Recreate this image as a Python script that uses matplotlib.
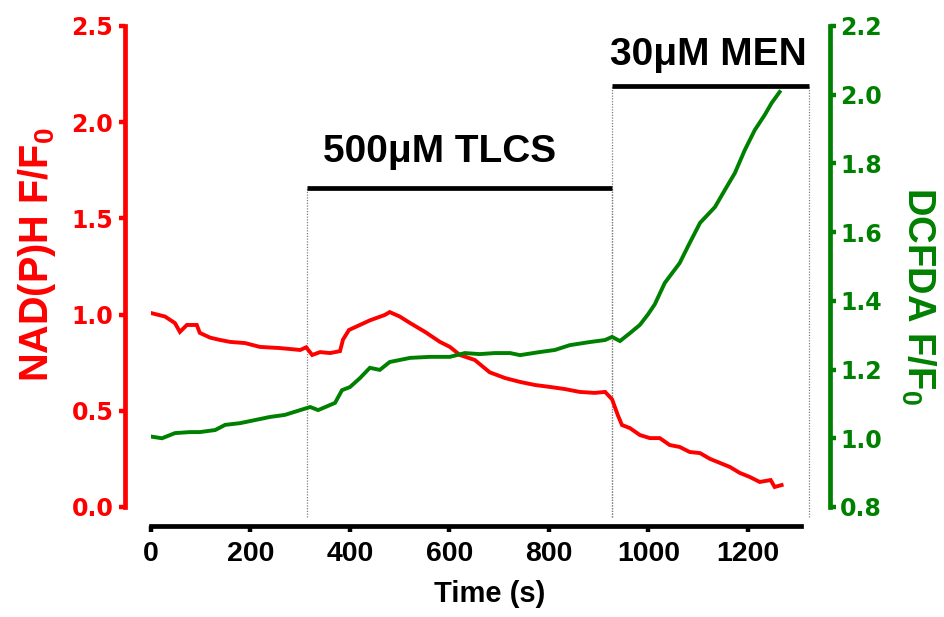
import matplotlib
matplotlib.use("Agg")
import matplotlib.pyplot as plt

# NAD(P)H trace (left axis)
nadh_t = [0, 28, 48, 58, 72, 92, 98, 119, 139, 159, 189, 219, 259, 300, 312, 324,
          340, 360, 380, 386, 398, 420, 440, 470, 480, 500, 521, 551, 581, 601,
          621, 651, 681, 712, 742, 772, 802, 832, 862, 892, 913, 927, 939, 947,
          963, 983, 1003, 1023, 1043, 1063, 1083, 1104, 1124, 1144, 1164, 1184,
          1204, 1224, 1246, 1254, 1268]
nadh_v = [1.008, 0.99, 0.956, 0.91, 0.946, 0.946, 0.905, 0.88, 0.868, 0.858, 0.852,
          0.832, 0.826, 0.816, 0.83, 0.79, 0.805, 0.80, 0.81, 0.87, 0.92, 0.946,
          0.97, 0.998, 1.013, 0.99, 0.956, 0.91, 0.858, 0.832, 0.79, 0.764, 0.70,
          0.67, 0.65, 0.634, 0.624, 0.613, 0.598, 0.593, 0.598, 0.56, 0.475, 0.426,
          0.41, 0.374, 0.358, 0.358, 0.322, 0.312, 0.286, 0.28, 0.25, 0.229, 0.208,
          0.177, 0.156, 0.13, 0.14, 0.104, 0.114]

# DCFDA trace (right axis)
dcf_t = [0, 22, 48, 78, 98, 129, 149, 179, 209, 239, 269, 300, 320, 336, 370, 384,
         400, 420, 440, 460, 480, 521, 561, 601, 631, 661, 691, 722, 742, 782, 812,
         842, 882, 913, 927, 943, 963, 983, 999, 1013, 1033, 1063, 1083, 1104, 1134,
         1154, 1174, 1194, 1214, 1234, 1248, 1264]
dcf_v = [1.005, 1.0, 1.015, 1.018, 1.018, 1.024, 1.039, 1.044, 1.053, 1.062, 1.068,
         1.082, 1.091, 1.082, 1.103, 1.14, 1.149, 1.175, 1.205, 1.199, 1.222, 1.234,
         1.237, 1.237, 1.248, 1.245, 1.248, 1.248, 1.242, 1.251, 1.257, 1.271, 1.28,
         1.286, 1.295, 1.283, 1.306, 1.33, 1.36, 1.39, 1.452, 1.51, 1.568, 1.627,
         1.673, 1.723, 1.772, 1.839, 1.897, 1.941, 1.976, 2.008]

# treatment windows (s)
tlcs_span = (314, 926)
men_span = (926, 1323)

left_ticks = [0.0, 0.5, 1.0, 1.5, 2.0, 2.5]
right_ticks = [0.8, 1.0, 1.2, 1.4, 1.6, 1.8, 2.0, 2.2]
x_ticks = [0, 200, 400, 600, 800, 1000, 1200]

RED = "#ff0000"
GREEN = "#008000"
FONT = "Liberation Sans"

plt.rcParams["mathtext.default"] = "regular"

fig = plt.figure(figsize=(9.44, 6.17), dpi=100)
ax = fig.add_axes([0.16, 0.1783, 0.688, 0.7796])
ax2 = ax.twinx()

ax.plot(nadh_t, nadh_v, color=RED, lw=2.8, solid_joinstyle="miter", zorder=3)
ax2.plot(dcf_t, dcf_v, color=GREEN, lw=2.8, solid_joinstyle="miter", zorder=3)

ax.set_xlim(0, 1306)
ax.set_ylim(0, 2.5)
ax2.set_ylim(0.8, 2.2)

ax.set_xticks(x_ticks)
ax.set_yticks(left_ticks)
ax2.set_yticks(right_ticks)
ax.set_yticklabels([f"{v:.1f}" for v in left_ticks])
ax2.set_yticklabels([f"{v:.1f}" for v in right_ticks])

for a in (ax, ax2):
    a.patch.set_visible(False)
    a.spines["top"].set_visible(False)
ax.spines["right"].set_visible(False)
ax2.spines["left"].set_visible(False)
ax2.spines["bottom"].set_visible(False)

ax.spines["left"].set_position(("outward", 18.7))
ax.spines["bottom"].set_position(("outward", 14))
ax2.spines["right"].set_position(("outward", 21))
ax.spines["left"].set_color(RED)
ax2.spines["right"].set_color(GREEN)
for sp in (ax.spines["left"], ax.spines["bottom"], ax2.spines["right"]):
    sp.set_linewidth(3.4)

ax.tick_params(axis="y", colors=RED, width=3.2, length=4.5, pad=4,
               labelsize=17)
ax2.tick_params(axis="y", colors=GREEN, width=3.2, length=4.5, pad=3,
                labelsize=17)
ax.tick_params(axis="x", colors="black", width=3.2, length=4.5, pad=6,
               labelsize=20.5)
for lab in ax.get_yticklabels() + ax2.get_yticklabels():
    lab.set_fontweight("bold")
    lab.set_family("DejaVu Sans")
for lab in ax.get_xticklabels():
    lab.set_fontweight("bold")
    lab.set_family(FONT)

ax.set_xlabel("Time (s)", fontsize=21, fontweight="bold", family=FONT)
ax.xaxis.set_label_coords(0.521, -0.152)

fig.text(0.039, 0.587, "NAD(P)H F/F$_0$", rotation=90, ha="center", va="center",
         color=RED, fontsize=28.5, fontweight="bold", family=FONT)
fig.text(0.973, 0.52, "DCFDA F/F$_0$", rotation=270, ha="center", va="center",
         color=GREEN, fontsize=27.5, fontweight="bold", family=FONT)

# treatment bars with dotted guide lines
bar_y = {"tlcs": 1.656, "men": 2.187}
for span, key in ((tlcs_span, "tlcs"), (men_span, "men")):
    ax.plot(span, [bar_y[key]] * 2, color="black", lw=3.4, solid_capstyle="butt",
            clip_on=False, zorder=4)
    for xv in span:
        ax.plot([xv, xv], [-0.052, bar_y[key]], color="#808080", lw=0.9,
                ls=(0, (1, 1.2)), clip_on=False, zorder=1)

ax.text(580, 1.793, "500\u03bcM TLCS", ha="center", va="baseline", fontsize=28,
        fontweight="bold", family=FONT, clip_on=False)
ax.text(1120, 2.297, "30\u03bcM MEN", ha="center", va="baseline", fontsize=28,
        fontweight="bold", family=FONT, clip_on=False)

fig.savefig("out.png", dpi=100)
